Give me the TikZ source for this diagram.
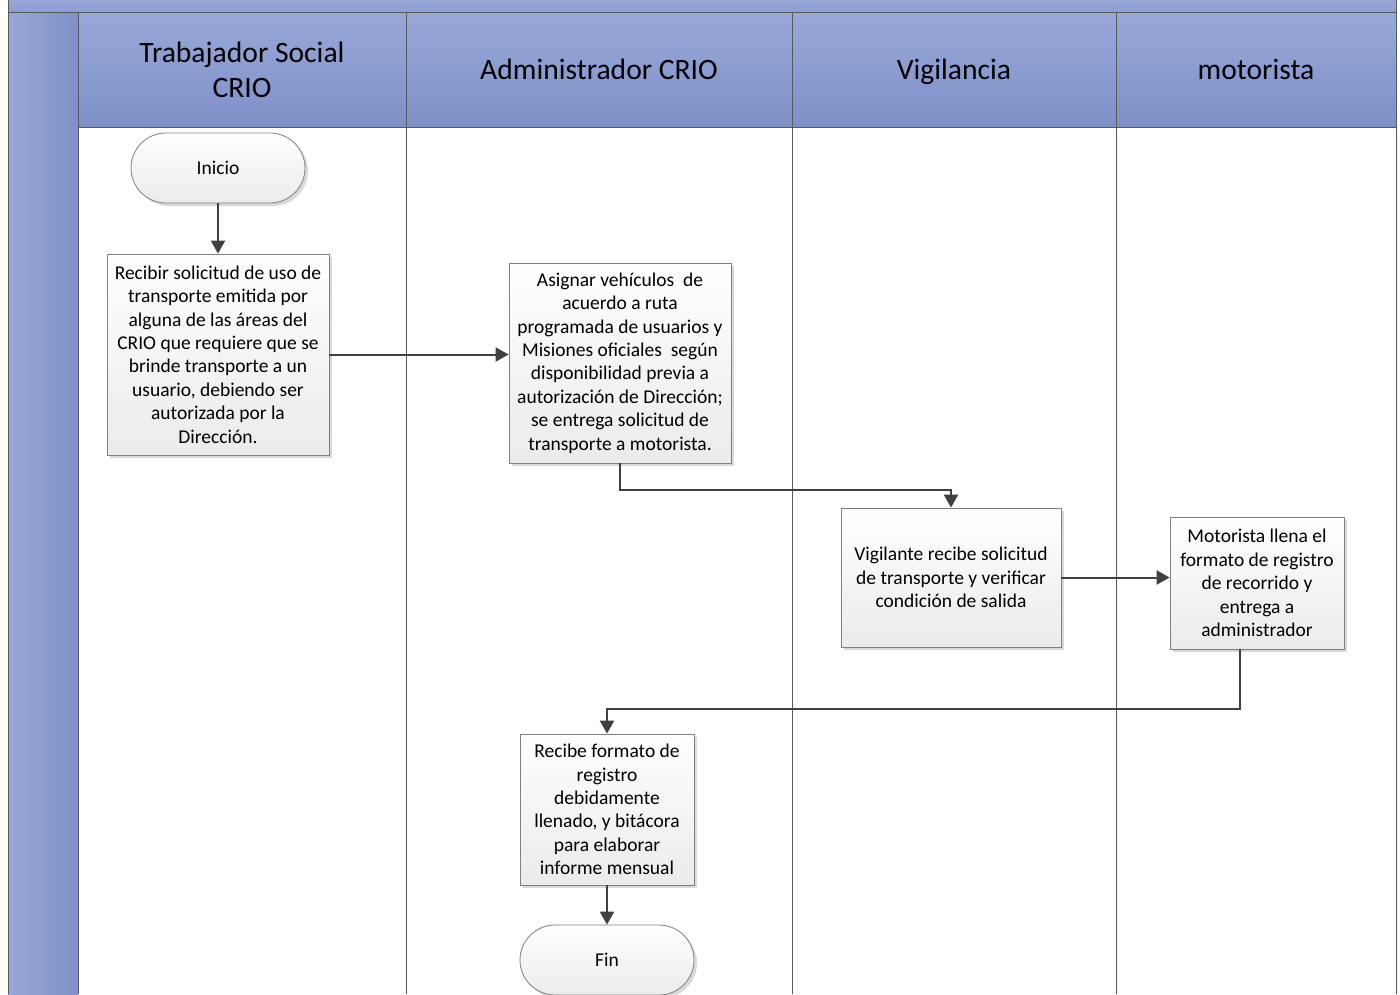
\documentclass[tikz,border=0pt]{standalone}
\usepackage{fontspec}
\setmainfont{Carlito}
\usetikzlibrary{arrows.meta,shapes.misc,shadows}
\definecolor{lanefill}{HTML}{8C9DD1}
\definecolor{lanetop}{HTML}{98A8D9}
\definecolor{lanebot}{HTML}{7E90C7}
\definecolor{laneline}{HTML}{595959}
\definecolor{flowcol}{HTML}{404040}
\definecolor{boxline}{HTML}{808080}
\newcommand{\boxfont}{\fontsize{19.5}{23.4}\selectfont}
\newcommand{\headfont}{\fontsize{29.6}{35}\selectfont}
\tikzset{
  procbox/.style={draw=boxline, line width=0.8pt, top color=white, bottom color=black!8,
    drop shadow={shadow xshift=3pt, shadow yshift=-3pt, fill=black!15, opacity=1},
    align=center, font=\boxfont, inner sep=0pt},
  termbox/.style={procbox, rounded rectangle},
  flow/.style={draw=flowcol, line width=2pt, -{Triangle[length=13pt,width=14pt]}},
  lanerule/.style={draw=laneline, line width=0.9pt},
  headtext/.style={font=\headfont, align=center, inner sep=0pt, anchor=base}
}
\begin{document}
\begin{tikzpicture}[x=1pt,y=-1pt]
\useasboundingbox (0,0) rectangle (1400,994);
\fill[white] (0,0) rectangle (1400,994);

% pool frame: title band, left band and lane headers
\shade[top color=lanetop, bottom color=lanefill] (8,0) rectangle (1396,12);
\shade[left color=lanetop, right color=lanebot] (8,12) rectangle (78,994);
\foreach \a/\b in {78/406, 406/792, 792/1116, 1116/1396}
  \shade[top color=lanetop, bottom color=lanebot] (\a,12) rectangle (\b,127);

% lane rules
\draw[lanerule] (8,0) -- (8,994);
\draw[lanerule] (1396,0) -- (1396,994);
\draw[lanerule] (8,12) -- (1396,12);
\draw[lanerule] (78,127) -- (1396,127);
\foreach \x in {78, 406, 792, 1116}
  \draw[lanerule] (\x,12) -- (\x,994);

% lane titles
\node[headtext] (h1) at (242,62) {Trabajador Social};
\node[headtext] (h1b) at (242,97) {CRIO};
\node[headtext] (h2) at (599,79) {Administrador CRIO};
\node[headtext] (h3) at (954,79) {Vigilancia};
\node[headtext] (h4) at (1256,79) {motorista};

% process steps
\node[termbox, minimum width=174pt, minimum height=70pt] (inicio) at (218,168) {Inicio};
\node[procbox, minimum width=222pt, minimum height=201pt] (recibir) at (218,354.5)
  {Recibir solicitud de uso de\\transporte emitida por\\alguna de las áreas del\\CRIO que requiere que se\\brinde transporte a un\\usuario, debiendo ser\\autorizada por la\\Dirección.};
\node[procbox, minimum width=222pt, minimum height=200pt] (asignar) at (620,363)
  {Asignar vehículos~ de\\acuerdo a ruta\\programada de usuarios y\\Misiones oficiales~ según\\disponibilidad previa a\\autorización de Dirección;\\se entrega solicitud de\\transporte a motorista.};
\node[procbox, minimum width=220pt, minimum height=139pt] (vigilante) at (951,577.5)
  {Vigilante recibe solicitud\\de transporte y verificar\\condición de salida};
\node[procbox, minimum width=174pt, minimum height=132pt] (motorista) at (1257,583)
  {Motorista llena el\\formato de registro\\de recorrido y\\entrega a\\administrador};
\node[procbox, minimum width=174pt, minimum height=151pt] (formato) at (607,809.5)
  {Recibe formato de\\registro\\debidamente\\llenado, y bitácora\\para elaborar\\informe mensual};
\node[termbox, minimum width=174pt, minimum height=70pt] (fin) at (607,960) {Fin};

% connectors
\draw[flow] (inicio.south) -- (recibir.north);
\draw[flow] (recibir.east) -- (recibir.east -| asignar.west);
\draw[flow] (asignar.south) -- ++(0,27) -| (vigilante.north);
\draw[flow] (vigilante.east) -- (vigilante.east -| motorista.west);
\draw[flow] ([xshift=-17pt]motorista.south) -- ++(0,60) -| (formato.north);
\draw[flow] (formato.south) -- (fin.north);
\end{tikzpicture}
\end{document}
